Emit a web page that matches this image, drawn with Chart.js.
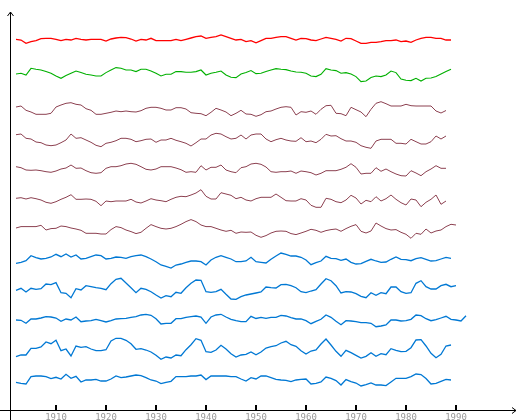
<!DOCTYPE html>
<html>
<head>
<meta charset="utf-8">
<script src="https://cdn.jsdelivr.net/npm/chart.js@4.4.0/dist/chart.umd.min.js"></script>
<style>
  body { margin: 0; background: #fff; }
  #wrap { width: 520px; height: 420px; }
</style>
</head>
<body>
<div id="wrap"><canvas id="chart" width="520" height="420"></canvas></div>
<script>
// yearly anomalies, one row per station, first value is 1902
const firstYear = 1902;
const tickYears = [1910, 1920, 1930, 1940, 1950, 1960, 1970, 1980, 1990];

const redSeries = [0, -0.7, -4, -2.3, -1.3, 0.7, 1, 1, 0, -1.3,
  0, -0.7, 1, 0, -0.7, 0, 0, 0, -1.7, 0.3,
  1.3, 2, 1.7, 0.3, -1.7, 0, -0.7, 1, -1.3, -1.3,
  -1.3, -1.3, 0, -1.3, 0, 1.3, 2.7, 3.3, 1, 2,
  2.7, 4.3, 2.7, 1, -0.7, 0, -2.3, -1.3, -3.5, -1.3,
  1, 1, 2, 2.7, 2.7, 1, -0.7, 1, 0.7, -0.7,
  -1.3, 0.3, 2, 1, 0, -1.7, 1, 0.7, -1.7, -4,
  -4, -3, -3, -2.3, -1.3, -1.3, -0.7, -2.3, -1.7, -3,
  -0.7, 1, 2, 2, 1, 1, -0.7, -0.7];

const greenSeries = [-0.7, 0, -1.7, 5, 4, 3.3, 1.7, 0, -2.7, -5,
  -2.3, 0, 2.3, 0.7, -1, -1.7, -2.7, -2.7, 0.7, 3.3,
  5.7, 5, 3.3, 3.3, 1.7, 4, 4, 2.3, 0, -2.7,
  -1, -1, 1.7, 1.7, 1, 1, 1.7, 3.3, -1.7, 0,
  1, 2.3, -1.7, -4, -4.3, -0.7, 0.7, 2.7, -0.3, 0,
  1.7, 3.3, 4.7, 4, 3.7, 2.3, 1.3, 1, 0, -2.7,
  -3.3, -1, 4.7, 3.3, 2.7, 0, 0.7, -0.7, -3.3, -8.3,
  -7.7, -4.3, -2.7, -3.3, -1.7, 2.3, 0.7, -5.7, -7, -7.3,
  -5, -7.7, -5, -4.7, -3.3, -0.7, 1.7, 4];

const brownA = [3, 4, -0.3, -2, -4.3, -4.3, -4.3, -3.3, 3, 5,
  6.7, 7.3, 5.7, 5, 1.3, -0.3, -4.3, -4.3, -3.3, -2.3,
  -1, -1.7, -1, -1.7, -2, -0.7, 1.7, 2.7, 2.7, 1.7,
  0, 0, 2.3, 2.3, 1, -2.7, -3.3, -3.7, -5.7, -2.3,
  1.7, 0, -2, -5.7, -3.3, -0.3, -4, -4.3, -6.3, -4.7,
  -1.7, -1, 1, 2.7, 3.3, 2.7, -5, -1.7, -2.3, -1,
  -4.3, 0.7, 4.3, 4.7, -3.3, -3.7, -5.7, 2.7, 0.3, -2,
  -6.7, 0.7, 6.7, 8.3, 6.3, 4, 4, 4, 5.7, 4.3,
  4, 4, 4, 4, -1, -3, -0.5];

const brownB = [5.3, 6, 1.7, 1, -2, -2.7, -5, -5.7, -5, -2.7,
  0, 6, 1.7, 2.3, 0, -2.3, -5.3, -6.7, -3.3, -2.3,
  -0.7, 1.7, 1.7, 0.7, -1.7, -0.7, 0.7, 1, -2.3, 0,
  0, 1.7, -0.3, -1.7, -3.3, -6, -2.7, 1, 1, 5,
  6.7, 6, 3.3, 1, 1.7, 5, 1, 5, 6, 6,
  1, -1.7, 0.3, 1.7, 0, -1, -1.3, 2.3, -1.7, -1,
  -2.7, 0.7, 5.7, 4, 4.3, 1.3, -1, -1, -2.3, -5.7,
  -7.3, -8.3, -1, 0.7, 0.7, 0.7, -3.3, -3.3, -4, 0.7,
  -1.7, -4, -4, -1.7, 4, 1, 4];

const brownC = [3.3, 2.3, 0, -0.3, 0, -0.7, -1.7, -2.3, -1, 1,
  2, 5, 1.7, 2, -0.7, -2.7, -3.3, -2.7, 1.7, 3.3,
  3.3, 4.3, 6, 6.7, 5.7, 3.3, 0.7, 0, 1, 3.3,
  3.3, 3.3, 2, 0.3, -2.3, -1.7, -2.3, 4.3, 0, 2.7,
  2.7, 5, 0, -1.7, -2.7, 2.3, 3.3, 6, 6.7, 5.7,
  3, -1.7, -2.3, -1.7, -1.7, -1, -3.3, -1, -1.7, -2.7,
  -5, -3.3, -0.7, -0.7, -0.7, 0.7, 2.7, 6.3, 2.7, -4,
  -3.3, -3.3, 2.3, -1.3, 1, -1.7, -4, -5.7, -6, -0.7,
  -3, -5.7, -1.7, 1, 4.3, 1.7, 1.7];

const brownD = [0.7, 1.3, 0, 1.3, 0.3, -1, -3.3, -4.3, -2.7, -0.3,
  1.7, 4.3, -0.3, -0.3, 0, -0.3, -2.3, -6.7, -2, -2.7,
  -2, -2, -2, -0.3, -3, -4, -2, 0.3, -1, -1.7,
  -2.7, -0.3, 1.7, 2.7, 2.3, 4, 6, 9.3, 2.7, 0,
  0, 6.3, 5, 3.7, 0.3, 1.7, -1, -2, 0.3, 1.7,
  1.7, 1.7, 5, 1.7, -1.7, -2, -2, 0.3, -1, -6.3,
  -8.3, -8.3, 0.7, -0.3, -2.7, -3.7, -1, 3.7, 1, -5,
  -1.3, -2.7, 2.3, -2, 0.3, 4, -0.3, -3.7, -6, 0,
  -1, -7.7, -3.3, -0.3, 4, -5.3, -2];

const brownE = [0.3, 1.7, 1.7, 1.7, 1.7, 3, -1.7, -0.3, 0, 2.3,
  1.7, 0.3, -0.7, -2, -5, -5, -5, -5.7, -5.7, -1.3,
  1.7, 0.7, -1.7, -3.3, -5.3, -4, 0, 3.7, 1.7, 0,
  -0.7, 0, 1.7, 4, 6.7, 8.7, 6.7, 3.3, 1.7, 1.7,
  0, -1.7, -3, -2, -5, -3.7, -4, -3.7, -7, -9,
  -7.3, -4.7, -3, -2.7, -3, -5.3, -6.3, -4.7, -3, -1,
  -2, -4, -2.3, -1.3, -0.7, -3, -0.3, 2, 3.7, -3,
  -4.7, -2.7, 5.3, 2.3, -0.3, -1.7, -1.3, -4, -6, -10,
  -5, -6, -0.7, -4.7, -2.7, -1.7, 1.7, 4, 3.3];

const blueA = [-3.3, -2.3, -0.7, 4.3, 2.3, 1, 1.7, 3, 5.7, 3.3,
  6, 3, 5, 1, 1.7, 3.3, 5, 4.3, 1, 1.7,
  3, 2.7, 1.7, 3.3, 4.3, 5, 3.3, 1, -1.7, -5,
  -6.3, -8, -5, -4, -2.3, -1, -1, -1.7, -5, 0,
  2.7, 4.3, 2.7, 1, -1.7, -1.7, -1, 2.7, -1.7, -2.3,
  -3, 0.7, 4, 7, 5.7, 4, 4, 2.7, 0, -4.7,
  -2.7, -1, 3.7, 1.7, 1.3, -0.3, 1, -2.3, -4, -3.7,
  -1.3, 0.7, -1, -2.3, -2, 0.7, 3, 0.7, 0.3, -0.7,
  1.3, 2.3, 0.7, -1, -0.7, 1, 2.7, 1.7];

const blueB = [-0.3, 1.7, -2, 1.7, 0.7, 1.3, 6, 5.3, 7.3, -2.7,
  -3.3, -7.7, 1.3, 0, 4.3, 3.3, 2.3, 1.7, 0.3, 6.3,
  10.7, 11.7, 7, 2.3, -2.7, 1.7, 0.7, -1.7, -5, -8,
  -5.7, -6.7, -2.3, -3.3, 2.3, 6.7, 10, 9.7, -1.7, -2.3,
  -1.7, 0.7, -4.3, -9, -9.3, -6.7, -5, -4, -3, -2,
  3, 2.3, 2, 5.3, 5.7, 4.3, 2.3, -1.7, -2.7, -1,
  0.3, 6, 11.3, 9.3, 4.3, -3, -1.7, -2, -3.7, -6.3,
  -7.7, -2.7, -5.3, -2.7, -3.7, 3, 3, -1.7, -3.3, -2.7,
  6.7, 9.3, 3.3, 1, 1, 4.3, 5.7, 3.3, 4.3];

const blueC = [0, -0.3, -3.3, 1, 1, 2, 3.3, 3, 2, -1.3,
  1, 0, 3, -1.7, -1, -0.7, 0.7, -0.7, -2, -0.7,
  1, 1.3, 1.7, 2.7, 3.3, 5, 5.7, 4.7, 1.3, -4,
  -3.3, -3.3, 1.3, 1.3, 2.7, 3.3, 4, 3, -3.3, 3,
  5, 5.7, 3, 0.7, -0.7, -1.7, -1.7, 3.7, 1.5, 2.7,
  1.7, 2.7, 2.7, 4.7, 4, 2.3, 1, 1, -0.7, -3.7,
  -1.3, 0.7, 5, 2.7, -1.3, -4.7, -0.7, -1, -1.7, -2.7,
  -2.7, -3.3, -6.7, -6, -5, 0, 0, -1, -0.7, 0.7,
  5, 4.3, 1.3, -0.7, 0.3, 2, 3.7, 0.7, 0, -1, 4.3];

const blueD = [-6.7, -5, -5, 1.7, 1.7, 3, 8, 6.3, 9.7, -0.7,
  1, -6, 4, 2.7, 3.3, 1, -0.7, -0.7, 0.3, 9,
  11.7, 11.7, 9.7, 6.3, 0.7, 1.3, 0, -2, -5.3, -9.3,
  -7, -8, -5, -5.7, 0.3, 5.3, 11.3, 9.7, -1.7, -2.3,
  0, 4.7, 1, -3.7, -7, -5, -4.3, -2, -4.8, -2,
  2, 3.3, 4.3, 7, 8.7, 5.3, 3.7, -0.7, -4, -1,
  0, 6, 11, 5, -1.3, -6.3, -0.3, -2.7, -5.3, -8,
  -6.3, -2.7, -6.3, -3.7, -4.7, 1.3, -0.3, -1.7, -1.3, 2.3,
  10, 10.3, 4, -3.3, -7.7, -4.3, 4, 5];

const blueE = [-4, -5, -5.7, 1.7, 2.3, 2.3, 1.7, -0.3, 1, -0.7,
  4, 0, 2, -3.7, -1.7, -1.7, -1, -2.7, -2.7, -0.7,
  2.3, 0.7, 1.3, 2.3, 3.3, 2.7, 0.7, -1.7, -2.7, -5.3,
  -4, -3, 1.7, 1.7, 1.7, 2.3, 2.3, 3.3, -1.3, 2.3,
  2.3, 2.3, 2.3, 1.7, 1.7, -0.7, -2.7, 0.7, -0.7, 2.3,
  2.3, 0.7, -1, -1.7, -2, -3.3, -1.7, -1, -0.7, -5.7,
  -5, -3.7, 1.3, 0, -2.3, -6.7, -1.3, -3.3, -4.7, -7.7,
  -6.3, -4.7, -6.7, -6.7, -7.3, -3.7, 0, 0, 0, 1.7,
  4.3, 3.7, -0.3, -5.7, -5, -3, -1, -1.7];

// stacking: each row is shifted up so the rows don't overlap
const RED = '#ff0000', GREEN = '#00b000', BROWN = '#8c4050', BLUE = '#0078d4';
const rows = [
  { data: redSeries, color: RED, shift: 370.7, w: 1.3 },
  { data: greenSeries, color: GREEN, shift: 336.7, w: 1.1 },
  { data: brownA, color: BROWN, shift: 300, w: 1 },
  { data: brownB, color: BROWN, shift: 270, w: 1 },
  { data: brownC, color: BROWN, shift: 240, w: 1 },
  { data: brownD, color: BROWN, shift: 211, w: 1 },
  { data: brownE, color: BROWN, shift: 181.7, w: 1 },
  { data: blueA, color: BLUE, shift: 150, w: 1.3 },
  { data: blueB, color: BLUE, shift: 120, w: 1.3 },
  { data: blueC, color: BLUE, shift: 90, w: 1.3 },
  { data: blueD, color: BLUE, shift: 60, w: 1.3 },
  { data: blueE, color: BLUE, shift: 31.7, w: 1.3 }
];

const datasets = rows.map(function (r) {
  return {
    data: r.data.map(function (v, i) { return { x: firstYear + i, y: v + r.shift }; }),
    borderColor: r.color,
    borderWidth: r.w,
    pointRadius: 0,
    tension: 0,
    fill: false
  };
});

// axes with arrows, ticks pointing up into the plot
const axesPlugin = {
  id: 'arrowAxes',
  afterDraw: function (chart) {
    const c = chart.ctx;
    const a = chart.chartArea;
    const xs = chart.scales.x;
    c.save();
    c.strokeStyle = '#000';
    c.fillStyle = '#000';
    c.lineWidth = 1;
    // y axis
    c.beginPath();
    c.moveTo(a.left + 0.5, 420);
    c.lineTo(a.left + 0.5, a.top);
    c.moveTo(a.left - 2.5, a.top + 4);
    c.lineTo(a.left + 0.5, a.top);
    c.lineTo(a.left + 3.5, a.top + 4);
    // x axis
    c.moveTo(0, a.bottom + 0.5);
    c.lineTo(a.right, a.bottom + 0.5);
    c.moveTo(a.right - 4, a.bottom - 2.5);
    c.lineTo(a.right, a.bottom + 0.5);
    c.lineTo(a.right - 4, a.bottom + 3.5);
    c.stroke();
    c.font = '9px "DejaVu Sans Mono"';
    c.textAlign = 'center';
    c.textBaseline = 'top';
    tickYears.forEach(function (yr) {
      const px = Math.round(xs.getPixelForValue(yr));
      c.fillStyle = '#000';
      c.fillRect(px - 1, a.bottom - 5, 2, 5);
      c.fillStyle = '#999';
      c.fillText(String(yr), px, a.bottom + 3);
    });
    c.restore();
  }
};

new Chart(document.getElementById('chart').getContext('2d'), {
  type: 'line',
  data: { datasets: datasets },
  options: {
    responsive: false,
    animation: false,
    layout: { padding: { left: 10, right: 4, top: 12, bottom: 10 } },
    plugins: { legend: { display: false }, tooltip: { enabled: false } },
    scales: {
      x: { type: 'linear', display: false, min: 1900.8, max: 2002 },
      y: { type: 'linear', display: false, min: 0, max: 398 }
    }
  },
  plugins: [axesPlugin]
});
</script>
</body>
</html>
